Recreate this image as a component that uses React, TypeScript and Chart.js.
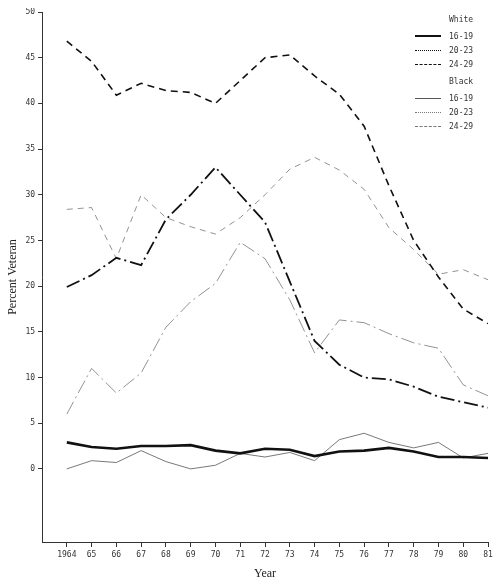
import { useEffect, useRef } from 'react';
import { Chart, registerables } from 'chart.js';
Chart.register(...registerables);

const years = [1964, 1965, 1966, 1967, 1968, 1969, 1970, 1971, 1972, 1973, 1974, 1975, 1976, 1977, 1978, 1979, 1980, 1981];
const yearLabels = ['1964', '65', '66', '67', '68', '69', '70', '71', '72', '73', '74', '75', '76', '77', '78', '79', '80', '81'];
const yTicks = [0, 5, 10, 15, 20, 25, 30, 35, 40, 45, 50];

const white1619 = [2.9, 2.4, 2.2, 2.5, 2.5, 2.6, 2.0, 1.7, 2.2, 2.1, 1.4, 1.9, 2.0, 2.3, 1.9, 1.3, 1.3, 1.2];
const white2023 = [19.9, 21.2, 23.1, 22.3, 27.3, 30.0, 33.0, 30.0, 27.0, 20.5, 14.0, 11.4, 10.0, 9.8, 9.0, 7.9, 7.3, 6.7];
const white2429 = [46.8, 44.6, 40.9, 42.2, 41.4, 41.2, 40.0, 42.5, 45.0, 45.3, 43.0, 41.0, 37.5, 31.0, 25.0, 21.0, 17.5, 15.9];
const black1619 = [0.0, 0.9, 0.7, 2.0, 0.8, 0.0, 0.4, 1.7, 1.3, 1.8, 0.9, 3.2, 3.9, 2.9, 2.3, 2.9, 1.2, 1.7];
const black2023 = [6.0, 11.0, 8.3, 10.5, 15.5, 18.3, 20.3, 24.8, 23.0, 18.5, 12.7, 16.3, 16.0, 14.8, 13.8, 13.2, 9.2, 8.0];
const black2429 = [28.4, 28.6, 23.0, 30.0, 27.5, 26.5, 25.7, 27.5, 30.0, 32.8, 34.1, 32.7, 30.6, 26.4, 24.0, 21.3, 21.8, 20.7];

const series = [
  { label: '16-19', data: white1619, width: 2.6, dash: [] as number[], color: '#111' },
  { label: '20-23', data: white2023, width: 1.8, dash: [14, 4, 2, 4], color: '#111' },
  { label: '24-29', data: white2429, width: 1.6, dash: [7, 5], color: '#111' },
  { label: '16-19', data: black1619, width: 0.8, dash: [] as number[], color: '#555' },
  { label: '20-23', data: black2023, width: 0.8, dash: [14, 4, 2, 4], color: '#777' },
  { label: '24-29', data: black2429, width: 0.8, dash: [6, 5], color: '#777' },
];

const mono = 'DejaVu Sans Mono';

function LegendRow({ s }: { s: typeof series[number] }) {
  const style = s.dash.length === 0 ? 'solid' : s.dash.length === 2 ? 'dashed' : 'dotted';
  return (
    <div style={{ display: 'flex', alignItems: 'center', height: 14 }}>
      <div style={{ width: 26, borderTop: `${Math.max(1, s.width)}px ${style} ${s.color}`, marginRight: 8 }} />
      <span>{s.label}</span>
    </div>
  );
}

export default function App() {
  const canvasRef = useRef<HTMLCanvasElement>(null);
  const chartRef = useRef<Chart | null>(null);

  useEffect(() => {
    if (!canvasRef.current) return;
    if (chartRef.current) chartRef.current.destroy();
    chartRef.current = new Chart(canvasRef.current, {
      type: 'line',
      data: {
        datasets: series.map(s => ({
          label: s.label,
          data: s.data.map((v, i) => ({ x: years[i], y: v })),
          borderColor: s.color,
          borderWidth: s.width,
          borderDash: s.dash,
          pointRadius: 0,
          tension: 0,
          fill: false,
        })),
      },
      options: {
        animation: false,
        responsive: false,
        layout: { padding: { left: 4, top: 12, right: 13, bottom: 6 } },
        plugins: { legend: { display: false }, tooltip: { enabled: false } },
        scales: {
          x: {
            type: 'linear',
            min: 1963,
            max: 1981,
            afterBuildTicks: (a: any) => { a.ticks = years.map(v => ({ value: v })); },
            ticks: {
              color: '#333',
              font: { size: 8, family: mono },
              maxRotation: 0,
              autoSkip: false,
              padding: 3,
              callback: (v: any) => yearLabels[years.indexOf(Number(v))],
            },
            grid: { display: true, drawOnChartArea: false, drawTicks: true, tickLength: 5, color: '#333' },
            border: { color: '#333', width: 1 },
            title: { display: true, text: 'Year', color: '#222', font: { size: 12, family: 'Liberation Serif' }, padding: { top: 4, bottom: 0 } },
          },
          y: {
            min: -8,
            max: 50,
            afterBuildTicks: (a: any) => { a.ticks = yTicks.map(v => ({ value: v })); },
            ticks: { color: '#333', font: { size: 8, family: mono }, padding: 3 },
            grid: { display: true, drawOnChartArea: false, drawTicks: true, tickLength: 4, color: '#333' },
            border: { color: '#333', width: 1 },
            title: { display: true, text: 'Percent Veteran', color: '#222', font: { size: 12, family: 'Liberation Serif' }, padding: 2 },
          },
        },
      },
    });
    return () => { chartRef.current?.destroy(); };
  }, []);

  return (
    <div style={{ position: 'relative', width: 501, height: 587, margin: -8, background: '#fff' }}>
      <canvas ref={canvasRef} width={501} height={587} style={{ width: 501, height: 587 }} />
      <div style={{ position: 'absolute', left: 415, top: 15, fontFamily: mono, fontSize: 8, color: '#333' }}>
        <div style={{ paddingLeft: 34, height: 14 }}>White</div>
        {series.slice(0, 3).map((s, i) => <LegendRow key={'w' + i} s={s} />)}
        <div style={{ paddingLeft: 34, height: 14, marginTop: 6 }}>Black</div>
        {series.slice(3).map((s, i) => <LegendRow key={'b' + i} s={s} />)}
      </div>
    </div>
  );
}
